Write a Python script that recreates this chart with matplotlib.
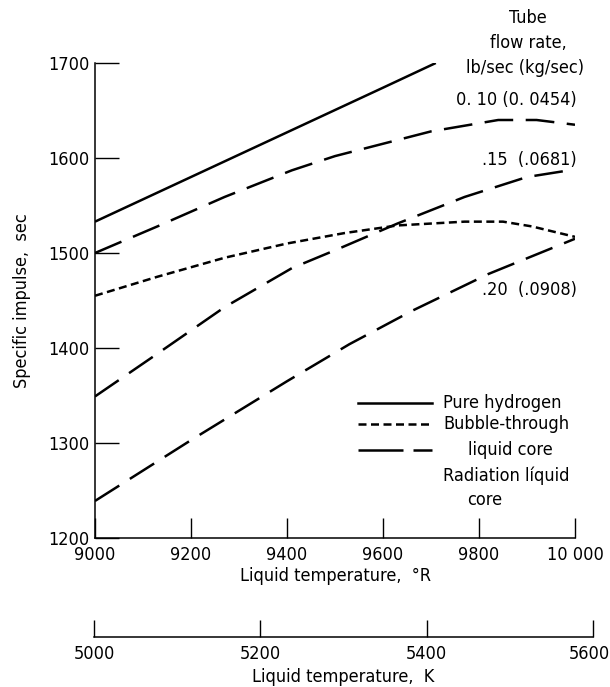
import numpy as np
import matplotlib
matplotlib.use('Agg')
import matplotlib.pyplot as plt
import matplotlib.transforms as mtransforms

plt.rcParams['font.family'] = ['DejaVu Sans']
plt.rcParams['font.stretch'] = 'condensed'

# data (deg R, sec)
pure_t = [9000, 9200, 9400, 9600, 9710]
pure_isp = [1533, 1580, 1627, 1674, 1700]

bubble_t = [9000, 9130, 9270, 9400, 9520, 9630, 9770, 9850, 9910, 10000]
bubble_isp = [1455, 1475, 1495, 1510, 1521, 1529, 1533, 1533, 1528, 1517]

rad10_t = [9000, 9130, 9270, 9410, 9500, 9700, 9840, 9920, 10000]
rad10_isp = [1500, 1528, 1559, 1587, 1602, 1628, 1640, 1640, 1635]

rad15_t = [9000, 9130, 9270, 9410, 9510, 9630, 9770, 9900, 10000]
rad15_isp = [1349, 1394, 1443, 1484, 1505, 1531, 1559, 1580, 1588]

rad20_t = [9000, 9200, 9400, 9530, 9660, 9820, 10000]
rad20_isp = [1239, 1303, 1365, 1404, 1439, 1478, 1515]

xticks_r = [9000, 9200, 9400, 9600, 9800, 10000]
xticklabels_r = ['9000', '9200', '9400', '9600', '9800', '10 000']
yticks = [1200, 1300, 1400, 1500, 1600, 1700]
xticks_k = [5000, 5200, 5400, 5600]

W, H = 610, 687
fig = plt.figure(figsize=(W / 100, H / 100), dpi=100)

# main axes: x 95..575 px, y 63..538 px
ax = fig.add_axes([95 / W, 1 - 538 / H, 480 / W, 475 / H])

lw = 1.8
short_dash = (0, (3.2, 1.8))
long_dash = (0, (11.5, 5))

ax.plot(pure_t, pure_isp, color='black', lw=lw, solid_capstyle='butt')
ax.plot(bubble_t, bubble_isp, color='black', lw=lw, ls=short_dash)
for t, isp in [(rad10_t, rad10_isp), (rad15_t, rad15_isp), (rad20_t, rad20_isp)]:
    ax.plot(t, isp, color='black', lw=lw, ls=long_dash)

ax.set_xlim(9000, 10000)
ax.set_ylim(1200, 1700)
ax.set_xticks(xticks_r)
ax.set_xticklabels(xticklabels_r)
ax.set_yticks(yticks)
for s in ['top', 'right']:
    ax.spines[s].set_visible(False)
for s in ['left', 'bottom']:
    ax.spines[s].set_linewidth(1.1)
ax.tick_params(axis='x', direction='in', length=14.5, width=1.0, pad=6, labelsize=13)
ax.tick_params(axis='y', direction='in', length=17, width=1.0, pad=4, labelsize=13)
ax.set_xlabel('Liquid temperature,  °R', fontsize=13, labelpad=2)
ax.set_ylabel('Specific impulse,  sec', fontsize=13, labelpad=12)
ax.patch.set_visible(False)

# legend drawn by hand, like the original
def fx(px):
    return (px - 95) / 480

def fy(py):
    return (538 - py) / 475

tr = ax.transAxes
ax.plot([fx(358), fx(432)], [fy(403)] * 2, transform=tr, color='black', lw=lw, clip_on=False)
ax.plot([fx(358), fx(432)], [fy(424)] * 2, transform=tr, color='black', lw=lw, ls=short_dash, clip_on=False)
ax.plot([fx(358), fx(432)], [fy(450)] * 2, transform=tr, color='black', lw=lw, ls=(0, (18, 4)), clip_on=False)
ax.text(fx(443), fy(403), 'Pure hydrogen', transform=tr, fontsize=13, va='center')
ax.text(fx(443), fy(424), 'Bubble-through', transform=tr, fontsize=13, va='center')
ax.text(fx(468), fy(450), 'liquid core', transform=tr, fontsize=13, va='center')
ax.text(fx(443), fy(476), 'Radiation líquid', transform=tr, fontsize=13, va='center')
ax.text(fx(467), fy(500), 'core', transform=tr, fontsize=13, va='center')

# flow-rate labels
fig.text(528 / W, 1 - 18 / H, 'Tube', ha='center', va='center', fontsize=13)
fig.text(528 / W, 1 - 43 / H, 'flow rate,', ha='center', va='center', fontsize=13)
fig.text(584 / W, 1 - 68 / H, 'lb/sec (kg/sec)', ha='right', va='center', fontsize=13)
fig.text(577 / W, 1 - 100 / H, '0. 10 (0. 0454)', ha='right', va='center', fontsize=13)
fig.text(577 / W, 1 - 160 / H, '.15  (.0681)', ha='right', va='center', fontsize=13)
fig.text(577 / W, 1 - 290 / H, '.20  (.0908)', ha='right', va='center', fontsize=13)

# Kelvin scale below
axk = fig.add_axes([94 / W, 1 - 637 / H, 499 / W, 0.001])
axk.set_xlim(5000, 5600)
axk.set_xticks(xticks_k)
axk.set_yticks([])
for s in ['top', 'right', 'left']:
    axk.spines[s].set_visible(False)
axk.spines['bottom'].set_linewidth(1.1)
axk.tick_params(axis='x', direction='in', length=12, width=1.0, pad=6, labelsize=13)
axk.set_xlabel('Liquid temperature,  K', fontsize=13, labelpad=3)
axk.patch.set_visible(False)

# keep the last kelvin label inside the picture
last = axk.get_xticklabels()[-1]
last.set_transform(last.get_transform() + mtransforms.ScaledTranslation(-4 / 100, 0, fig.dpi_scale_trans))

fig.savefig('out.png', dpi=100)
